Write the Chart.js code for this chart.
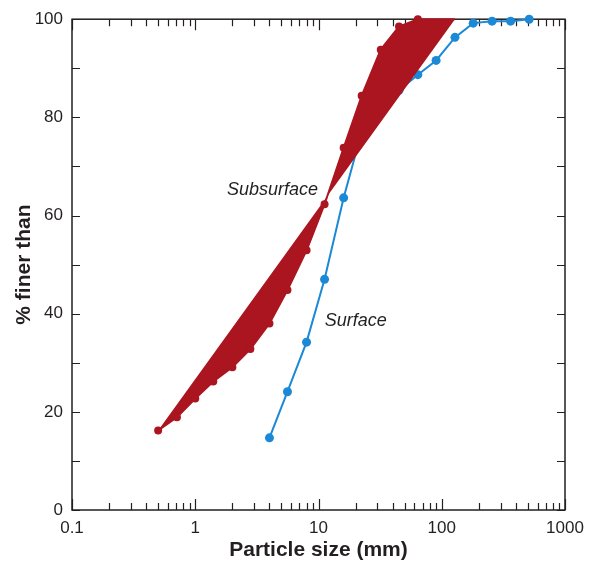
<!DOCTYPE html>
<html>
<head>
<meta charset="utf-8">
<script src="https://cdn.jsdelivr.net/npm/chart.js@4/dist/chart.umd.min.js"></script>
<style>
  html, body { margin: 0; padding: 0; background: #fff; }
  #wrap { width: 592px; height: 561px; position: relative; }
</style>
</head>
<body>
<div id="wrap"><canvas id="c" width="592" height="561"></canvas></div>
<script>
// ---- data ----
const xSubsurface = [0.5, 0.71, 1, 1.4, 2, 2.8, 4, 5.6, 8, 11.2, 16, 22.4, 32, 45, 64, 128];
const ySubsurface = [16.2, 18.9, 22.7, 26.2, 29.1, 32.8, 38.0, 44.8, 52.9, 62.3, 73.8, 84.4, 93.8, 98.5, 100, 100];
const xSurface = [4, 5.6, 8, 11.2, 16, 22.4, 32, 45, 64, 90, 128, 180, 256, 362, 512];
const ySurface = [14.7, 24.1, 34.2, 47.0, 63.6, 77.0, 81.0, 85.5, 88.7, 91.6, 96.3, 99.2, 99.6, 99.6, 100];
const xTickValues = [0.1, 1, 10, 100, 1000];
const xTickLabels = ['0.1', '1', '10', '100', '1000'];
const yTickValues = [0, 20, 40, 60, 80, 100];
const yTickLabels = ['0', '20', '40', '60', '80', '100'];
const seriesLabels = [
  { text: 'Subsurface', x: 4.24, y: 65.3 },
  { text: 'Surface', x: 20.1, y: 38.5 }
];

const RED = '#ab151f';
const BLUE = '#1b89d6';
const INK = '#231f20';

const toPts = (xs, ys) => xs.map((x, i) => ({ x: x, y: ys[i] }));

const framePlugin = {
  id: 'frame',
  beforeDatasetsDraw(chart) {
    const { ctx, chartArea: a, scales: { x, y } } = chart;
    ctx.save();
    ctx.strokeStyle = INK;
    ctx.lineWidth = 1.5;
    ctx.strokeRect(a.left, a.top, a.right - a.left, a.bottom - a.top);
    ctx.lineWidth = 1.2;
    ctx.beginPath();
    // x ticks (log minor + decade majors), inward on bottom and top
    for (let e = -1; e <= 3; e++) {
      for (let k = 1; k <= 9; k++) {
        if (e === 3 && k > 1) break;
        const v = k * Math.pow(10, e);
        const px = Math.round(x.getPixelForValue(v)) + 0.5;
        const len = k === 1 ? 11 : 7;
        ctx.moveTo(px, a.bottom); ctx.lineTo(px, a.bottom - len);
        ctx.moveTo(px, a.top); ctx.lineTo(px, a.top + len);
      }
    }
    // y ticks every 10, inward on left and right
    for (let v = 0; v <= 100; v += 10) {
      const py = Math.round(y.getPixelForValue(v)) + 0.5;
      ctx.moveTo(a.left, py); ctx.lineTo(a.left + 8, py);
      ctx.moveTo(a.right, py); ctx.lineTo(a.right - 8, py);
    }
    ctx.stroke();
    ctx.restore();
  },
  afterDatasetsDraw(chart) {
    const { ctx, scales: { x, y } } = chart;
    ctx.save();
    ctx.fillStyle = INK;
    ctx.font = 'italic 18px "Liberation Sans", Arial, sans-serif';
    ctx.textAlign = 'center';
    ctx.textBaseline = 'middle';
    seriesLabels.forEach(l => {
      ctx.fillText(l.text, x.getPixelForValue(l.x), y.getPixelForValue(l.y));
    });
    ctx.restore();
  }
};

const lastIdx = xSubsurface.length - 1;

new Chart(document.getElementById('c'), {
  type: 'line',
  data: {
    datasets: [
      {
        label: 'Subsurface',
        data: toPts(xSubsurface, ySubsurface),
        borderColor: RED,
        backgroundColor: RED,
        pointBackgroundColor: RED,
        pointBorderWidth: 0,
        pointRadius: (c) => c.dataIndex === lastIdx ? 0 : 4,
        borderWidth: 2,
        fill: 'shape',
        tension: 0,
        clip: false
      },
      {
        label: 'Surface',
        data: toPts(xSurface, ySurface),
        borderColor: BLUE,
        backgroundColor: BLUE,
        pointBackgroundColor: BLUE,
        pointBorderWidth: 0,
        pointRadius: 4.5,
        borderWidth: 2,
        fill: false,
        tension: 0,
        clip: false
      }
    ]
  },
  options: {
    responsive: false,
    animation: false,
    devicePixelRatio: 1,
    layout: { padding: { left: 0, right: 27, top: 17, bottom: 0 } },
    plugins: { legend: { display: false }, tooltip: { enabled: false } },
    scales: {
      x: {
        type: 'logarithmic',
        min: 0.1, max: 1000,
        afterBuildTicks: (s) => { s.ticks = xTickValues.map(v => ({ value: v })); },
        afterFit: (s) => { s.height = 51; },
        grid: { display: false, drawTicks: false },
        border: { display: false },
        ticks: {
          color: INK,
          font: { family: '"Liberation Sans", Arial, sans-serif', size: 17 },
          padding: 8,
          maxRotation: 0,
          autoSkip: false,
          callback: (v) => { const i = xTickValues.findIndex(t => Math.abs(t - v) < 1e-9 * Math.max(1, t)); return i >= 0 ? xTickLabels[i] : ''; }
        },
        title: {
          display: true,
          text: 'Particle size (mm)',
          color: INK,
          font: { family: '"Liberation Sans", Arial, sans-serif', size: 21, weight: 'bold', lineHeight: 1 },
          padding: { top: 0, bottom: 0.5 }
        }
      },
      y: {
        type: 'linear',
        min: 0, max: 100,
        afterBuildTicks: (s) => { s.ticks = yTickValues.map(v => ({ value: v })); },
        afterFit: (s) => { s.width = 72; },
        grid: { display: false, drawTicks: false },
        border: { display: false },
        ticks: {
          color: INK,
          font: { family: '"Liberation Sans", Arial, sans-serif', size: 17 },
          padding: 9,
          callback: (v) => { const i = yTickValues.indexOf(v); return i >= 0 ? yTickLabels[i] : ''; }
        },
        title: {
          display: true,
          text: '% finer than',
          color: INK,
          font: { family: '"Liberation Sans", Arial, sans-serif', size: 21, weight: 'bold', lineHeight: 1 },
          padding: { top: 13.5, bottom: 0 }
        }
      }
    }
  },
  plugins: [framePlugin]
});
</script>
</body>
</html>
